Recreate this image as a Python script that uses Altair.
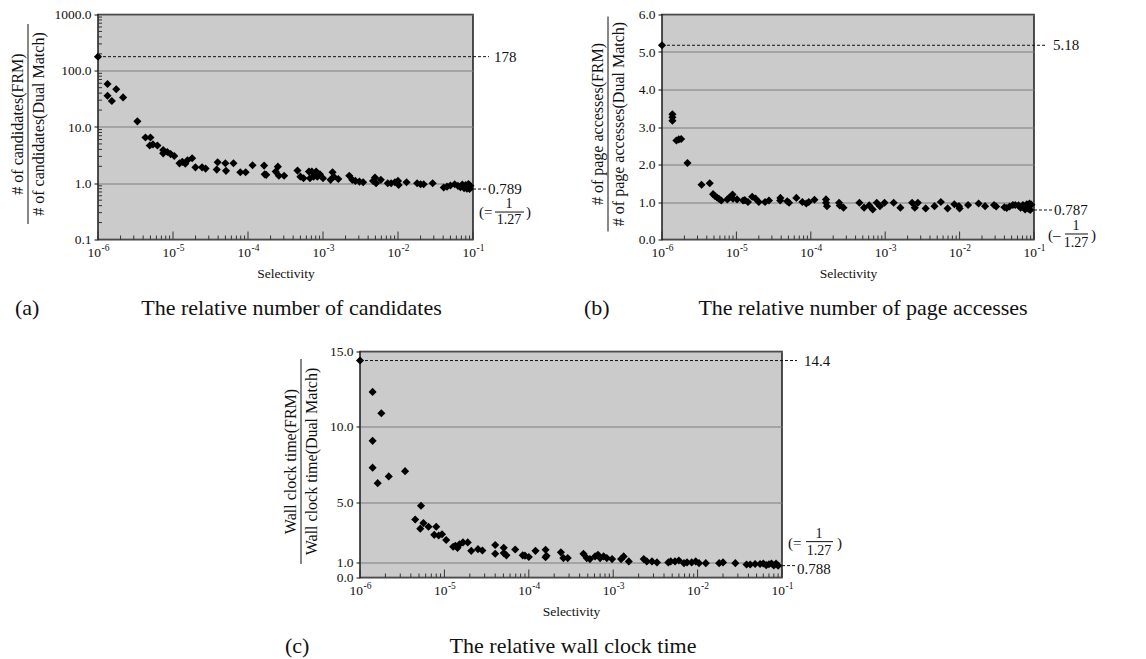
import altair as alt
import pandas as pd

FONT = "Liberation Serif"
INK = "#111111"
BG = "#cbcbcb"
GRID = "#7d7d7d"
FRAME = "#1a1a1a"

# ---------------- data ----------------
a_sel = [1e-6, 1.34e-6, 1.34e-6, 1.53e-6, 1.75e-6, 2.16e-6, 3.35e-6, 4.29e-6, 5.0e-6, 4.9e-6,
         5.4e-6, 6.2e-6, 7.4e-6, 7.4e-6, 8.4e-6, 9.3e-6, 1.04e-5, 1.22e-5, 1.33e-5, 1.46e-5,
         1.56e-5, 1.80e-5, 1.99e-5, 2.44e-5, 2.72e-5, 3.83e-5, 3.94e-5, 4.99e-5, 5.09e-5, 6.4e-5,
         7.9e-5, 9.3e-5, 1.15e-4, 1.64e-4, 1.67e-4, 1.75e-4, 2.34e-4, 2.5e-4, 2.58e-4, 3.03e-4,
         4.57e-4, 5.0e-4, 5.5e-4, 6.5e-4, 7.1e-4, 8.1e-4, 6.7e-4, 7.5e-4, 8.4e-4, 9.1e-4,
         1.0e-3, 1.26e-3, 1.34e-3, 1.39e-3, 1.6e-3, 2.24e-3, 2.46e-3, 2.7e-3, 3.06e-3, 3.43e-3,
         4.65e-3, 4.93e-3, 5.1e-3, 5.9e-3, 7.3e-3, 8.1e-3, 9.1e-3, 1.0e-2, 1.02e-2, 1.3e-2,
         1.8e-2, 2.0e-2, 2.2e-2, 2.9e-2, 4.07e-2, 4.5e-2, 5.0e-2, 5.7e-2, 6.3e-2, 6.8e-2,
         7.2e-2, 7.6e-2, 8.0e-2, 8.3e-2, 8.7e-2, 9.0e-2, 9.2e-2]
a_val = [178, 58, 36, 29, 47, 33.6, 12.6, 6.5, 6.5, 4.7,
         4.9, 4.7, 3.9, 3.4, 3.6, 3.3, 3.05, 2.26, 2.4, 2.23,
         2.56, 2.78, 1.92, 1.92, 1.82, 1.75, 2.36, 2.27, 1.66, 2.27,
         1.57, 1.57, 2.09, 2.06, 1.44, 1.41, 1.61, 1.97, 1.36, 1.36,
         1.68, 1.31, 1.23, 1.61, 1.61, 1.61, 1.23, 1.31, 1.31, 1.44,
         1.23, 1.15, 1.57, 1.31, 1.19, 1.36, 1.15, 1.1, 1.07, 1.04,
         1.1, 1.26, 1.0, 1.15, 1.0, 1.0, 1.04, 1.1, 0.93, 1.04,
         1.0, 0.96, 0.96, 1.0, 0.84, 0.87, 0.91, 0.96, 0.9, 0.85,
         0.95, 0.82, 0.93, 0.8, 0.97, 0.789, 0.9]

b_sel = [1e-6, 1.38e-6, 1.38e-6, 1.38e-6, 1.56e-6, 1.68e-6, 1.81e-6, 2.2e-6, 3.4e-6, 4.38e-6,
         4.86e-6, 5.14e-6, 5.49e-6, 5.86e-6, 6.26e-6, 7.55e-6, 8.07e-6, 8.87e-6, 9.0e-6, 1.02e-5,
         1.23e-5, 1.3e-5, 1.43e-5, 1.63e-5, 1.81e-5, 2.0e-5, 2.43e-5, 2.74e-5, 3.88e-5, 3.9e-5,
         4.82e-5, 5.1e-5, 6.39e-5, 7.7e-5, 8.7e-5, 9.4e-5, 1.12e-4, 1.6e-4, 1.6e-4, 1.65e-4,
         2.4e-4, 2.45e-4, 2.75e-4, 4.5e-4, 5.2e-4, 6.1e-4, 6.8e-4, 7.7e-4, 8.5e-4, 9.8e-4,
         1.3e-3, 1.6e-3, 2.3e-3, 2.5e-3, 2.75e-3, 3.5e-3, 4.6e-3, 5.6e-3, 6.9e-3, 8.5e-3,
         9.8e-3, 1.0e-2, 1.3e-2, 1.8e-2, 2.2e-2, 2.9e-2, 3.1e-2, 4.0e-2, 4.3e-2, 4.7e-2,
         5.2e-2, 5.6e-2, 6.2e-2, 6.6e-2, 7.1e-2, 7.6e-2, 8.0e-2, 8.2e-2, 8.4e-2, 8.7e-2,
         8.9e-2, 9.2e-2]
b_val = [5.18, 3.34, 3.26, 3.17, 2.64, 2.67, 2.68, 2.04, 1.46, 1.5,
         1.21, 1.16, 1.12, 1.08, 1.04, 1.07, 1.12, 1.2, 1.09, 1.07,
         1.04, 1.05, 1.0, 1.14, 1.09, 1.0, 1.0, 1.04, 1.04, 1.11,
         1.02, 0.98, 1.11, 1.0, 0.96, 1.0, 1.06, 1.07, 0.98, 0.89,
         0.98, 0.91, 0.85, 0.98, 0.85, 0.91, 0.80, 0.98, 0.89, 0.98,
         0.98, 0.85, 0.98, 0.85, 0.98, 0.83, 0.89, 1.0, 0.83, 0.94,
         0.89, 0.83, 0.92, 0.96, 0.89, 0.92, 0.88, 0.86, 0.84, 0.88,
         0.92, 0.92, 0.91, 0.85, 0.92, 0.80, 0.94, 0.88, 0.82, 0.96,
         0.787, 0.93]

c_sel = [1e-6, 1.41e-6, 1.79e-6, 1.41e-6, 1.41e-6, 1.62e-6, 2.19e-6, 3.42e-6, 5.28e-6, 4.51e-6,
         5.18e-6, 5.64e-6, 6.48e-6, 8.0e-6, 7.58e-6, 8.55e-6, 9.37e-6, 1.05e-5, 1.27e-5, 1.35e-5,
         1.43e-5, 1.51e-5, 1.66e-5, 1.89e-5, 2.08e-5, 2.5e-5, 2.82e-5, 4.0e-5, 4.0e-5, 5.05e-5,
         5.05e-5, 5.43e-5, 6.9e-5, 8.47e-5, 9.0e-5, 1.0e-4, 1.2e-4, 1.58e-4, 1.58e-4, 1.62e-4,
         2.4e-4, 2.57e-4, 2.89e-4, 4.44e-4, 4.86e-4, 5.3e-4, 6.1e-4, 6.6e-4, 7.0e-4, 7.7e-4,
         8.4e-4, 9.7e-4, 1.24e-3, 1.33e-3, 1.53e-3, 2.3e-3, 2.5e-3, 2.88e-3, 3.3e-3, 4.5e-3,
         4.8e-3, 5.4e-3, 6.0e-3, 6.9e-3, 7.5e-3, 8.5e-3, 9.5e-3, 1.04e-2, 1.25e-2, 1.8e-2,
         2.0e-2, 2.8e-2, 3.8e-2, 4.2e-2, 4.8e-2, 5.5e-2, 6.0e-2, 6.5e-2, 7.0e-2, 7.5e-2,
         8.0e-2, 8.5e-2, 9.0e-2]
c_val = [14.4, 12.32, 10.9, 9.07, 7.29, 6.26, 6.71, 7.06, 4.76, 3.85,
         3.24, 3.61, 3.37, 3.37, 2.83, 2.79, 2.87, 2.49, 2.04, 2.1,
         1.97, 2.2, 2.33, 2.33, 1.77, 1.88, 1.79, 2.16, 1.58, 1.97,
         1.62, 1.47, 1.86, 1.47, 1.45, 1.36, 1.77, 1.84, 1.35, 1.44,
         1.67, 1.29, 1.29, 1.57, 1.29, 1.22, 1.4, 1.51, 1.29, 1.4,
         1.29, 1.22, 1.22, 1.4, 1.07, 1.22, 1.07, 1.07, 1.0, 1.0,
         1.07, 1.07, 1.13, 0.95, 1.0, 1.0, 1.07, 0.95, 0.95, 0.95,
         1.0, 0.95, 0.86, 0.86, 0.9, 0.9, 0.93, 0.82, 0.88, 0.93,
         0.8, 0.92, 0.788]

x_major = [1e-6, 1e-5, 1e-4, 1e-3, 1e-2, 1e-1]
x_exp = ["-6", "-5", "-4", "-3", "-2", "-1"]
mantissas = [2, 3, 4, 5, 6, 7, 8, 9]
x_minor = [m * d for d in x_major[:-1] for m in mantissas]
a_yticks = [0.1, 1, 10, 100, 1000]
a_yminor = [m * d for d in [0.1, 1, 10, 100] for m in mantissas]
b_yticks = [0, 1, 2, 3, 4, 5, 6]
c_yticks = [0, 1, 5, 10, 15]

ONE = pd.DataFrame({"k": [0]})
XS = alt.Scale(type="log", domain=[1e-6, 1e-1], nice=False)
XAX = alt.Axis(title="Selectivity", labels=False, ticks=False, domain=False, grid=False,
               titleFont=FONT, titleFontSize=13.5, titleFontWeight="normal",
               titleColor=INK, titlePadding=27)


def yaxis(values):
    return alt.Axis(values=values, format=".1f", title=None, grid=True, gridColor=GRID,
                    gridWidth=1, gridOpacity=1, domain=False, ticks=True, tickSize=4,
                    tickColor=INK, labelPadding=3, labelFont=FONT, labelFontSize=13.5,
                    labelColor=INK, labelOverlap=False, labelFlush=False)


def txt(s, x, y, size, align="left", angle=0):
    return alt.Chart(ONE).mark_text(
        text=s, font=FONT, fontSize=size, align=align, baseline="middle",
        angle=angle, color=INK
    ).encode(x=alt.value(x), y=alt.value(y))


def panel(sel, val, W, H, ys, yticks, ytitle, tx, bar_len, tag, tag_x, cap_dx, caption,
          top_v, top_t, top_dash, top_x, low_v, low_t, low_dash, low_x,
          frac, yminor=None, anchor=False):
    YAX = yaxis(yticks)

    def Y(field):
        return alt.Y(field, scale=ys, axis=YAX)

    def X(field):
        return alt.X(field, scale=XS, axis=XAX)

    def vtxt(s, v, x, size=15, align="left", dy=0):
        return alt.Chart(pd.DataFrame({"v": [v]})).mark_text(
            text=s, font=FONT, fontSize=size, align=align, baseline="middle", dy=dy, color=INK
        ).encode(x=alt.value(x), y=Y("v:Q"))

    def vrule(v, x1, x2, yoff=0, dash=None):
        mk = dict(color=INK, strokeWidth=1, yOffset=yoff)
        if dash:
            mk["strokeDash"] = dash
        return alt.Chart(pd.DataFrame({"v": [v]})).mark_rule(**mk).encode(
            y=Y("v:Q"), x=alt.value(x1), x2=alt.value(x2))

    df = pd.DataFrame({"s": sel, "v": val})
    pts = alt.Chart(df).mark_point(
        shape="diamond", filled=True, color="black", size=66, opacity=1, strokeWidth=0
    ).encode(x=X("s:Q"), y=Y("v:Q"))
    layers = [pts]
    mdf = pd.DataFrame({"t": x_minor})
    layers.append(alt.Chart(mdf).mark_rule(color="#333333", strokeWidth=1).encode(
        x=X("t:Q"), y=alt.value(H), y2=alt.value(H - 4)))
    Mdf = pd.DataFrame({"t": x_major, "e": x_exp})
    layers.append(alt.Chart(Mdf).mark_rule(color="#333333", strokeWidth=1).encode(
        x=X("t:Q"), y=alt.value(H), y2=alt.value(H - 8)))
    layers.append(alt.Chart(Mdf).mark_text(
        text="10", font=FONT, fontSize=13.5, align="right", baseline="middle", dx=3, color=INK
    ).encode(x=X("t:Q"), y=alt.value(H + 13)))
    layers.append(alt.Chart(Mdf).mark_text(
        font=FONT, fontSize=9.5, align="left", baseline="middle", dx=3.5, dy=-5, color=INK
    ).encode(x=X("t:Q"), y=alt.value(H + 13), text="e:N"))
    if yminor:
        ydf = pd.DataFrame({"t": yminor})
        layers.append(alt.Chart(ydf).mark_rule(color="#333333", strokeWidth=1).encode(
            y=Y("t:Q"), x=alt.value(0), x2=alt.value(4)))
    # reference lines and labels on the right
    layers.append(vrule(top_v, 0, W + top_dash, dash=[3, 2]))
    layers.append(vtxt(top_t, top_v, W + top_x))
    layers.append(vrule(low_v, W, W + low_dash, dash=[3, 2]))
    layers.append(vtxt(low_t, low_v, W + low_x, dy=frac.get("low_dy", 0)))
    layers.append(vtxt(frac["open"], low_v, W + frac["ox"], dy=frac["pdy"]))
    layers.append(vtxt("1", low_v, W + frac["cx"], size=14, align="center", dy=frac["ndy"]))
    layers.append(vrule(low_v, W + frac["bx1"], W + frac["bx2"], yoff=frac["bdy"]))
    layers.append(vtxt("1.27", low_v, W + frac["cx"], size=14, align="center", dy=frac["ddy"]))
    layers.append(vtxt(")", low_v, W + frac["cx2"], dy=frac["pdy"]))
    # y title drawn as a fraction
    cy = H / 2 - 3
    layers.append(txt(ytitle[0], tx[0], cy, 16, align="center", angle=270))
    layers.append(txt(ytitle[1], tx[2], cy, 16, align="center", angle=270))
    layers.append(alt.Chart(ONE).mark_rule(color=INK, strokeWidth=1).encode(
        x=alt.value(tx[1]), y=alt.value(cy - bar_len / 2), y2=alt.value(cy + bar_len / 2)))
    # caption below the panel
    layers.append(txt(tag, tag_x, H + 68, 22))
    layers.append(txt(caption, W / 2 + cap_dx, H + 68, 22, align="center"))
    if anchor:
        layers.append(alt.Chart(ONE).mark_rule(color="transparent").encode(
            x=alt.value(-90), x2=alt.value(-90), y=alt.value(100), y2=alt.value(101)))
    return alt.layer(*layers).properties(
        width=W, height=H,
        view=alt.ViewBackground(fill=BG, stroke=FRAME, strokeWidth=1.5),
    )


AX0, BX0, CX0 = 96, 660, 358
WA, WB, WC = 375, 372, 422
HA, HC = 225, 226

pa = panel(a_sel, a_val, WA, HA,
           alt.Scale(type="log", domain=[0.1, 1000], nice=False), a_yticks,
           ["# of candidates(FRM)", "# of candidates(Dual Match)"], (-80, -70, -59), 200,
           "(a)", -83, 6, "The relative number of candidates",
           178, "178", 16, 21, 0.789, "0.789", 14, 15,
           dict(open="(=", ox=6, pdy=23, cx=36, ndy=15, bx1=22, bx2=51, bdy=23, ddy=31, cx2=53),
           yminor=a_yminor, anchor=True)

pb = panel(b_sel, b_val, WB, HA,
           alt.Scale(type="linear", domain=[0, 6], nice=False), b_yticks,
           ["# of page accesses(FRM)", "# of page accesses(Dual Match)"], (-64, -54, -43), 215,
           "(b)", -78, 15, "The relative number of page accesses",
           5.18, "5.18", 11, 19, 0.787, "0.787", 18, 20,
           dict(open="(\u2013", ox=14, pdy=25, cx=42, ndy=16, bx1=31, bx2=54, bdy=24, ddy=33, cx2=57))

pc = panel(c_sel, c_val, WC, HC,
           alt.Scale(type="linear", domain=[0, 15], nice=False), c_yticks,
           ["Wall clock time(FRM)", "Wall clock time(Dual Match)"], (-69, -59, -48), 205,
           "(c)", -75, 2, "The relative wall clock time",
           14.4, "14.4", 15, 22, 0.788, "0.788", 14, 15,
           dict(open="(=", ox=6, pdy=-23, cx=37, ndy=-32, bx1=24, bx2=51, bdy=-24, ddy=-15,
                cx2=55, low_dy=3))

spacer = alt.Chart(ONE).mark_rule(color="transparent").encode(
    x=alt.value(0), y=alt.value(0), y2=alt.value(1)
).properties(width=1, height=1, view=alt.ViewBackground(fill="transparent", stroke="transparent"))

top = alt.hconcat(pa, pb, spacing=BX0 - AX0 - WA, bounds="flush")
bottom = alt.hconcat(spacer, pc, spacing=CX0 - AX0 - 1, bounds="flush")

chart = alt.vconcat(top, bottom, spacing=337, bounds="flush").properties(
    padding={"left": -2, "top": -1.5, "right": 2, "bottom": 2}
).configure(font=FONT).configure_view(stroke="transparent")

chart.save("out.html", embed_options={"renderer": "svg", "actions": False})
